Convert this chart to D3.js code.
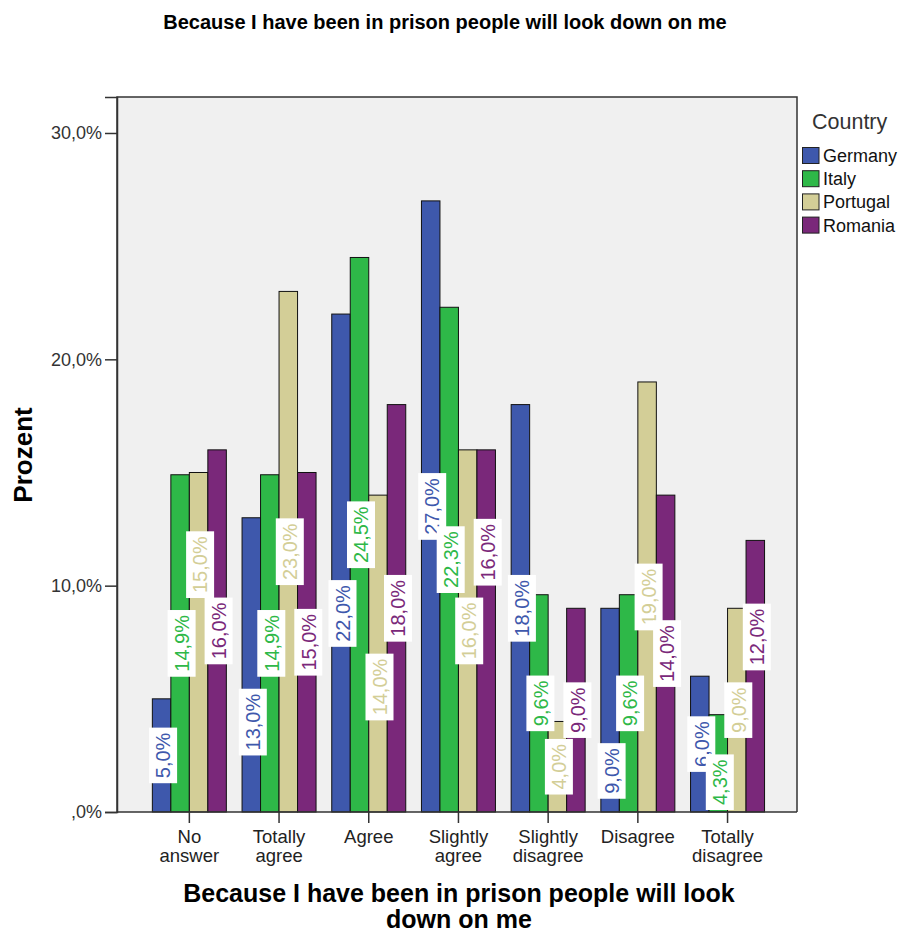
<!DOCTYPE html>
<html><head><meta charset="utf-8">
<script src="https://cdn.jsdelivr.net/npm/d3@7"></script>
<style>
body{margin:0;background:#fff;}
text{font-family:"Liberation Sans",Arial,sans-serif;}
</style></head>
<body><svg id="c" width="902" height="936"></svg>
<script>
const categories = [["No","answer"],["Totally","agree"],["Agree"],["Slightly","agree"],["Slightly","disagree"],["Disagree"],["Totally","disagree"]];
const seriesNames = ["Germany","Italy","Portugal","Romania"];
const germany  = [5.0, 13.0, 22.0, 27.0, 18.0, 9.0, 6.0];
const italy    = [14.9, 14.9, 24.5, 22.3, 9.6, 9.6, 4.3];
const portugal = [15.0, 23.0, 14.0, 16.0, 4.0, 19.0, 9.0];
const romania  = [16.0, 15.0, 18.0, 16.0, 9.0, 14.0, 12.0];
const yTicks = [0, 10, 20, 30];
const yTickLabels = [",0%", "10,0%", "20,0%", "30,0%"];
const colors = ["#3e58ac", "#2eb848", "#d3ce97", "#7a287a"];
const titleText = "Because I have been in prison people will look down on me";
const xTitleLines = ["Because I have been in prison people will look", "down on me"];
const yTitle = "Prozent";
const legendTitle = "Country";

const series = [germany, italy, portugal, romania];
const svg = d3.select("#c");
const catKeys = categories.map(c => c.join(" "));

const L = 117, R = 797, T = 97, B = 812;
const y = d3.scaleLinear().domain([0, 31.59]).range([B, T]);
const x0 = d3.scaleBand().domain(catKeys).range([144.5, 772.4]).padding(0);
const bw = x0.bandwidth();
const gw = 74;
const x1 = d3.scaleBand().domain(seriesNames).range([(bw-gw)/2, (bw+gw)/2]).padding(0);

// plot background
svg.append("rect").attr("x", L).attr("y", T).attr("width", R-L).attr("height", B-T)
  .attr("fill", "#f0f0f0");

// bars
const g = svg.append("g");
seriesNames.forEach((s, si) => {
  g.selectAll(null).data(series[si]).enter().append("rect")
    .attr("x", (d, i) => x0(catKeys[i]) + x1(s))
    .attr("y", d => y(d))
    .attr("width", x1.bandwidth())
    .attr("height", d => y(0) - y(d))
    .attr("fill", colors[si])
    .attr("stroke", "#111").attr("stroke-width", 1);
});

// value labels with simple collision avoidance
const fmt = v => d3.format(".1f")(v).replace(".", ",") + "%";
const FS = 20, BOXW = 30, TOL = 20, GAP = 12;
const measure = svg.append("text").attr("font-size", FS).attr("visibility", "hidden");
const lab = svg.append("g");
const ovl = (a, b) => Math.min(a.y + a.h/2, b.y + b.h/2) - Math.max(a.y - a.h/2, b.y - b.h/2);
categories.forEach((c, i) => {
  const items = seriesNames.map((s, si) => {
    const v = series[si][i];
    const txt = fmt(v);
    const w = measure.text(txt).node().getComputedTextLength();
    return {si, v, txt, w, h: w + 10,
      x: x0(catKeys[i]) + x1(s) + x1.bandwidth()/2 + 1.5,
      y: (y(v) + y(0)) / 2};
  });
  const conflict = (a, b) => Math.abs(a.x - b.x) < BOXW && ovl(a, b) > TOL;
  for (let k = 0; k < items.length - 1; k++) {
    const a = items[k], b = items[k+1];
    if (!conflict(a, b)) continue;
    const up = (hi, lo) => { hi.y = lo.y - lo.h/2 - GAP - hi.h/2; };
    if (Math.abs(a.y - b.y) < 5) {
      const hi = b.v >= a.v ? b : a, lo = hi === a ? b : a;
      up(hi, lo);
      continue;
    }
    const lo = a.v <= b.v ? a : b, hi = lo === a ? b : a;
    const other = lo === a ? items[k-1] : items[k+2];
    const maxTop = B - 2 - lo.h;
    const newTop = Math.min(hi.y + hi.h/2 + GAP, maxTop);
    const cand = {x: lo.x, y: newTop + lo.h/2, h: lo.h};
    const ok = ovl(cand, hi) <= TOL && !(other && conflict(cand, other));
    if (ok) lo.y = cand.y; else up(hi, lo);
  }
  items.forEach(d => {
    const gg = lab.append("g").attr("transform", `translate(${d.x},${d.y}) rotate(-90)`);
    gg.append("rect").attr("x", -d.w/2 - 5).attr("y", -14).attr("width", d.w + 10).attr("height", 28)
      .attr("fill", "#fff");
    gg.append("text").attr("text-anchor", "middle").attr("dy", "0.36em")
      .attr("font-size", FS).attr("fill", colors[d.si]).text(d.txt);
  });
});
measure.remove();

// frame
svg.append("path").attr("d", `M${L},${B}V${T}H${R}V${B}`).attr("fill", "none")
  .attr("stroke", "#333").attr("stroke-width", 1.5);

// y axis
const ya = svg.append("g").attr("transform", `translate(${L},0)`)
  .call(d3.axisLeft(y).tickValues(yTicks).tickSize(12).tickFormat((d, i) => yTickLabels[i]));
ya.select(".domain").attr("stroke", "#333").attr("stroke-width", 1.5);
ya.selectAll(".tick line").attr("stroke", "#333").attr("stroke-width", 1.5);
ya.selectAll(".tick text").attr("font-size", 18).attr("fill", "#333")
  .attr("font-family", "'Liberation Sans',Arial,sans-serif").attr("x", -15);

// x axis
const xa = svg.append("g").attr("transform", `translate(0,${B})`)
  .call(d3.axisBottom(x0).tickSize(11).tickFormat(""));
xa.select(".domain").attr("stroke", "#333").attr("stroke-width", 1.5).attr("d", `M${L},0H${R}`);
xa.selectAll(".tick line").attr("stroke", "#333").attr("stroke-width", 1.5);
xa.selectAll(".tick").each(function(d, i) {
  const t = d3.select(this).append("text").attr("fill", "#222").attr("font-size", 18.5)
    .attr("text-anchor", "middle").attr("font-family", "'Liberation Sans',Arial,sans-serif");
  categories[i].forEach((ln, li) => {
    t.append("tspan").attr("x", 0).attr("y", 31 + li * 19).text(ln);
  });
});

// titles
svg.append("text").attr("x", 445).attr("y", 29).attr("text-anchor", "middle")
  .attr("font-size", 20).attr("font-weight", "bold").attr("fill", "#000").text(titleText);
xTitleLines.forEach((ln, i) => {
  svg.append("text").attr("x", 459).attr("y", 902 + i * 26).attr("text-anchor", "middle")
    .attr("font-size", 25).attr("font-weight", "bold").attr("fill", "#000").text(ln);
});
svg.append("text").attr("transform", "translate(32,455) rotate(-90)").attr("text-anchor", "middle")
  .attr("font-size", 26).attr("font-weight", "bold").attr("fill", "#000").text(yTitle);

// legend
const lg = svg.append("g");
lg.append("text").attr("x", 812).attr("y", 129).attr("font-size", 21.5).attr("fill", "#333").text(legendTitle);
seriesNames.forEach((s, i) => {
  lg.append("rect").attr("x", 802.5).attr("y", 147.5 + i * 23.2).attr("width", 16.5).attr("height", 16)
    .attr("fill", colors[i]).attr("stroke", "#222").attr("stroke-width", 1);
  lg.append("text").attr("x", 823).attr("y", 162 + i * 23.2).attr("font-size", 18).attr("fill", "#111").text(s);
});
</script></body></html>
